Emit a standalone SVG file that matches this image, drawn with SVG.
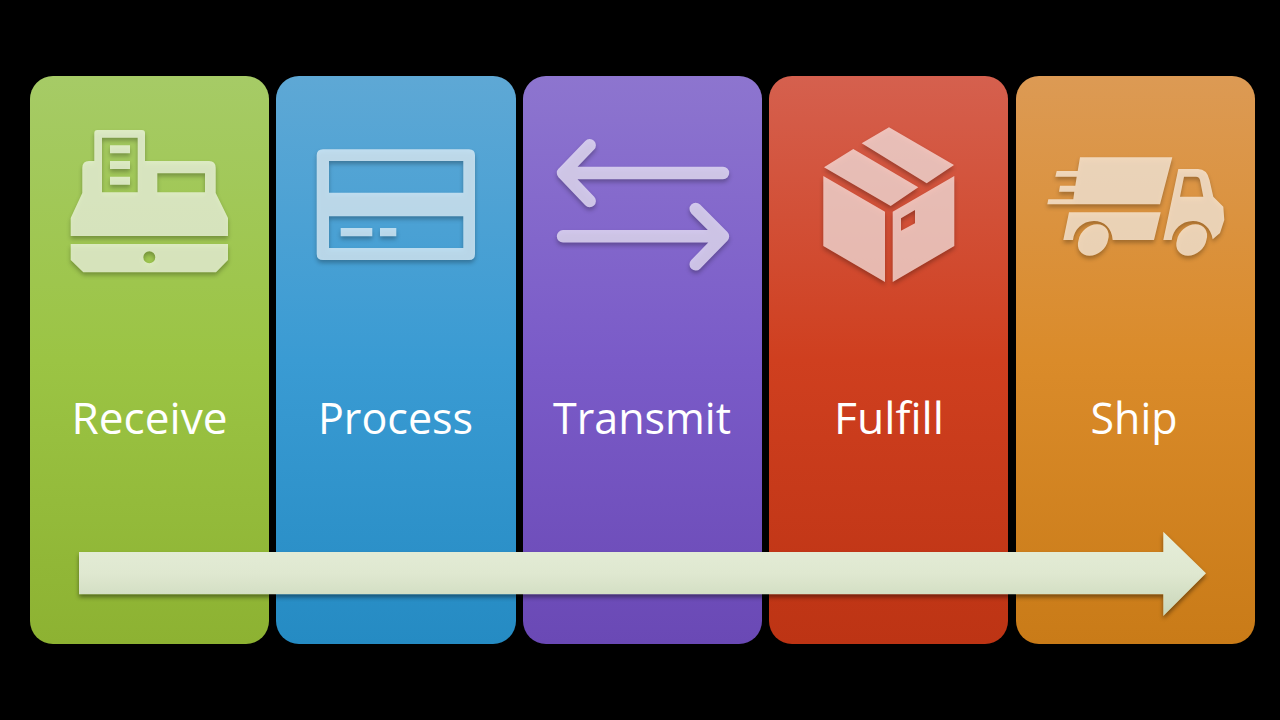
<svg xmlns="http://www.w3.org/2000/svg" width="1280" height="720" viewBox="0 0 1280 720">
<style>
.panel{stroke:none}
.icon{fill:#fff;fill-opacity:.63;fill-rule:evenodd}
.iconline{fill:none;stroke:#fff;stroke-opacity:.63;stroke-width:12.4;stroke-linecap:round;stroke-linejoin:round}
.label{font-family:"Open Sans","Noto Sans","Liberation Sans",sans-serif;font-size:44px;fill:#fff;text-anchor:middle}
</style>
<defs>
<linearGradient id="gGreen" x1="0" y1="0" x2="0" y2="1"><stop offset="0" stop-color="#a6cb66"/><stop offset=".5" stop-color="#9bc444"/><stop offset="1" stop-color="#8db232"/></linearGradient>
<linearGradient id="gBlue" x1="0" y1="0" x2="0" y2="1"><stop offset="0" stop-color="#5ea8d5"/><stop offset=".5" stop-color="#3a9bd3"/><stop offset="1" stop-color="#258bc3"/></linearGradient>
<linearGradient id="gPurple" x1="0" y1="0" x2="0" y2="1"><stop offset="0" stop-color="#8d75cf"/><stop offset=".5" stop-color="#7a5bc8"/><stop offset="1" stop-color="#6a49b5"/></linearGradient>
<linearGradient id="gRed" x1="0" y1="0" x2="0" y2="1"><stop offset="0" stop-color="#d5604e"/><stop offset=".5" stop-color="#cf3f1f"/><stop offset="1" stop-color="#bd3414"/></linearGradient>
<linearGradient id="gOrange" x1="0" y1="0" x2="0" y2="1"><stop offset="0" stop-color="#dc9a54"/><stop offset=".5" stop-color="#da8b2a"/><stop offset="1" stop-color="#c97b18"/></linearGradient>
<linearGradient id="gArrow" gradientUnits="userSpaceOnUse" x1="0" y1="531" x2="0" y2="616"><stop offset="0" stop-color="#e6eeda"/><stop offset=".5" stop-color="#dfe8d0"/><stop offset="1" stop-color="#c8d5b8"/></linearGradient>
<filter id="shadow" x="-20%" y="-20%" width="140%" height="140%" color-interpolation-filters="sRGB">
<feGaussianBlur in="SourceAlpha" stdDeviation="2"/><feOffset dx="0" dy="2.5" result="o"/>
<feFlood flood-color="#000" flood-opacity=".42"/><feComposite in2="o" operator="in"/>
<feComposite in2="SourceAlpha" operator="out" result="s"/>
<feMerge><feMergeNode in="s"/><feMergeNode in="SourceGraphic"/></feMerge>
</filter>
</defs>
<rect width="1280" height="720" fill="#000"/>

<g id="node-receive">
<rect class="panel" x="30" y="76" width="239" height="568" rx="23" fill="url(#gGreen)"/>
<path class="icon" filter="url(#shadow)" d="M94.300 133Q94.300 130 97.300 130H142Q145 130 145 133V161H209Q215.700 161 215.700 168V193L228 218V236H70.700V218L82.300 193V168Q82.300 161 89 161H94.300ZM102 137.700V192.300H137.700V137.700ZM110 145.300H130V153.300H110ZM110 161H130V169H110ZM110 176.700H130V184.700H110ZM157.300 173.300V192.300H205V173.300ZM70.700 244H228V260L216 272.300H83.300L70.700 260ZM155.300 257.300A6 6 0 1 0 143.300 257.300A6 6 0 1 0 155.300 257.300Z"/>
<text class="label" x="149.500" y="434" textLength="156" lengthAdjust="spacingAndGlyphs">Receive</text>
</g>

<g id="node-process">
<rect class="panel" x="276" y="76" width="240" height="568" rx="23" fill="url(#gBlue)"/>
<path class="icon" filter="url(#shadow)" d="M323 149.300H469Q475 149.300 475 155.300V254Q475 260 469 260H323Q316.700 260 316.700 254V155.300Q316.700 149.300 323 149.300ZM329 161V192.700H463.300V161ZM329 216.300V248H463.300V216.300ZM340.700 228H372.300V236.300H340.700ZM380 228H396.300V236.300H380Z"/>
<text class="label" x="395.500" y="434" textLength="155" lengthAdjust="spacingAndGlyphs">Process</text>
</g>

<g id="node-transmit">
<rect class="panel" x="523" y="76" width="239" height="568" rx="23" fill="url(#gPurple)"/>
<path class="iconline" filter="url(#shadow)" d="M723 173H563M589.700 145.300L563 173L589.700 201M563 236.300H723M695.700 209L723 236.300L695.700 264.300"/>
<text class="label" x="642" y="434" textLength="178" lengthAdjust="spacingAndGlyphs">Transmit</text>
</g>

<g id="node-fulfill">
<rect class="panel" x="769" y="76" width="239" height="568" rx="23" fill="url(#gRed)"/>
<path class="icon" filter="url(#shadow)" d="M889 127.300L954 165L926.700 183.300L861.700 143.300ZM853.300 149L918.300 187.300L890.700 206L824 167.300ZM823.300 176L885 211.700V282L823.300 246ZM954.300 176V246L892.700 282V211.700ZM901 218.300V230.700L915 223.300V210Z"/>
<text class="label" x="889" y="434" textLength="110" lengthAdjust="spacingAndGlyphs">Fulfill</text>
</g>

<g id="node-ship">
<rect class="panel" x="1016" y="76" width="239" height="568" rx="23" fill="url(#gOrange)"/>
<path class="icon" filter="url(#shadow)" d="M1080 157.300H1172.300L1160 204.300H1047.300L1048.300 199.300H1073.300L1074.300 191.700H1059L1060 185.700H1075.300L1076.700 176.700H1055.300L1056.700 171H1077.700ZM1069 212.300H1160.700L1154 240H1112.700C1112 228 1104 221 1094 221C1082 221 1074 230 1073 240H1063.300ZM1178.300 169H1198Q1207 169 1209.500 180L1213.300 196.700L1223.300 206.700L1224.300 220L1220 233L1212.700 239.300C1211 228 1203 221 1193 221C1181 221 1173 230 1171.700 240H1163.300ZM1184 176.700L1180 196.700H1203.300L1200 180Q1199 176.700 1196 176.700ZM1108 240A16.500 13 -40 1 0 1078.600 240A16.500 13 -40 1 0 1108 240ZM1206.400 240A16.500 13 -40 1 0 1177 240A16.500 13 -40 1 0 1206.400 240Z"/>
<text class="label" x="1134" y="434" textLength="87" lengthAdjust="spacingAndGlyphs">Ship</text>
</g>

<g id="connectors">
<path filter="url(#shadow)" fill="url(#gArrow)" d="M79 552H1163.300V531.700L1206 573.300L1163.300 616V594.300H79Z"/>
</g>
</svg>
